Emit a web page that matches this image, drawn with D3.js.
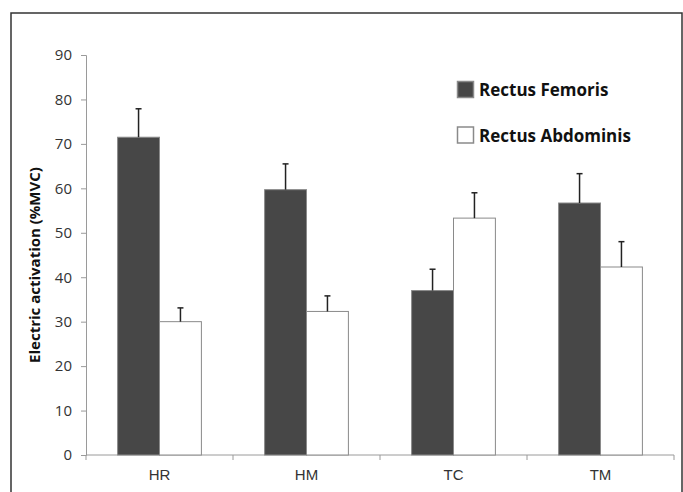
<!DOCTYPE html>
<html>
<head>
<meta charset="utf-8">
<script src="https://cdn.jsdelivr.net/npm/d3@7"></script>
<style>
  body { margin: 0; background: #fff; }
  svg { display: block; }
</style>
</head>
<body>
<div id="chart"></div>
<script>
// data
var categories = ["HR", "HM", "TC", "TM"];
var seriesNames = ["Rectus Femoris", "Rectus Abdominis"];
var femoris = [71.5, 59.7, 37.0, 56.7];
var femorisErr = [6.4, 5.8, 4.8, 6.6];
var abdominis = [30.0, 32.3, 53.3, 42.3];
var abdominisErr = [3.1, 3.5, 5.7, 5.7];
var yTicks = [0, 10, 20, 30, 40, 50, 60, 70, 80, 90];

var svgWidth = 683;
var svgHeight = 492;

var margin = { top: 55, right: 9, bottom: 37, left: 86 };
var width = svgWidth - margin.left - margin.right;
var height = svgHeight - margin.top - margin.bottom;

var colors = ["#474747", "#ffffff"];

var svg = d3.select("#chart")
  .append("svg")
  .attr("width", svgWidth)
  .attr("height", svgHeight);

// outer frame
svg.append("rect")
  .attr("x", 11)
  .attr("y", 13)
  .attr("width", 671)
  .attr("height", 500)
  .attr("fill", "none")
  .attr("stroke", "#333")
  .attr("stroke-width", 1.5);

var chartGroup = svg.append("g")
  .attr("transform", `translate(${margin.left}, ${margin.top})`);

var rows = categories.map(function(c, i) {
  return {
    cat: c,
    values: [
      { key: 0, value: femoris[i], err: femorisErr[i] },
      { key: 1, value: abdominis[i], err: abdominisErr[i] }
    ]
  };
});

var x0 = d3.scaleBand()
  .domain(categories)
  .range([0, width])
  .paddingInner(0.43)
  .paddingOuter(0.215);

var x1 = d3.scaleBand()
  .domain([0, 1])
  .range([0, x0.bandwidth()]);

var y = d3.scaleLinear()
  .domain([0, 90])
  .range([height, 0]);

// y axis
var leftAxis = d3.axisLeft(y)
  .tickValues(yTicks)
  .tickSize(5)
  .tickPadding(9);

var yAxisG = chartGroup.append("g").call(leftAxis);
yAxisG.select(".domain").attr("stroke", "#9a9a9a");
yAxisG.selectAll(".tick line").attr("stroke", "#9a9a9a");
yAxisG.selectAll(".tick text")
  .attr("font-family", "Open Sans, sans-serif")
  .attr("font-size", 15)
  .attr("fill", "#333");

// x axis line and ticks at category boundaries
var step = x0.step();
var bounds = d3.range(categories.length + 1).map(function(i) {
  return x0(categories[0]) - x0.paddingOuter() * step + i * step;
});

chartGroup.append("line")
  .attr("x1", 0)
  .attr("x2", width)
  .attr("y1", height)
  .attr("y2", height)
  .attr("stroke", "#9a9a9a");

chartGroup.selectAll(".xtick")
  .data(bounds)
  .enter()
  .append("line")
  .attr("class", "xtick")
  .attr("x1", d => d)
  .attr("x2", d => d)
  .attr("y1", height)
  .attr("y2", height + 5)
  .attr("stroke", "#9a9a9a");

chartGroup.selectAll(".xlabel")
  .data(categories)
  .enter()
  .append("text")
  .attr("class", "xlabel")
  .attr("x", d => x0(d) + x0.bandwidth() / 2)
  .attr("y", height + 25)
  .attr("text-anchor", "middle")
  .attr("font-family", "Liberation Sans, Arial, sans-serif")
  .attr("font-size", 15)
  .attr("fill", "#333")
  .text(d => d);

// bars
var groups = chartGroup.selectAll(".cat")
  .data(rows)
  .enter()
  .append("g")
  .attr("class", "cat")
  .attr("transform", d => `translate(${x0(d.cat)},0)`);

groups.selectAll("rect")
  .data(d => d.values)
  .enter()
  .append("rect")
  .attr("x", d => x1(d.key))
  .attr("y", d => y(d.value))
  .attr("width", x1.bandwidth())
  .attr("height", d => height - y(d.value))
  .attr("fill", d => colors[d.key])
  .attr("stroke", "#8a8a8a")
  .attr("stroke-width", 1);

// error bars
groups.selectAll(".err")
  .data(d => d.values)
  .enter()
  .append("line")
  .attr("class", "err")
  .attr("x1", d => x1(d.key) + x1.bandwidth() / 2)
  .attr("x2", d => x1(d.key) + x1.bandwidth() / 2)
  .attr("y1", d => y(d.value))
  .attr("y2", d => y(d.value + d.err))
  .attr("stroke", "#222")
  .attr("stroke-width", 1.5);

groups.selectAll(".cap")
  .data(d => d.values)
  .enter()
  .append("line")
  .attr("class", "cap")
  .attr("x1", d => x1(d.key) + x1.bandwidth() / 2 - 3)
  .attr("x2", d => x1(d.key) + x1.bandwidth() / 2 + 3)
  .attr("y1", d => y(d.value + d.err))
  .attr("y2", d => y(d.value + d.err))
  .attr("stroke", "#222")
  .attr("stroke-width", 1.5);

// legend
var legend = svg.selectAll(".legend")
  .data(seriesNames)
  .enter()
  .append("g")
  .attr("class", "legend")
  .attr("transform", (d, i) => `translate(457, ${81 + i * 45.5})`);

legend.append("rect")
  .attr("x", 0.5)
  .attr("y", 0.5)
  .attr("width", 16)
  .attr("height", 16)
  .attr("fill", (d, i) => colors[i])
  .attr("stroke", "#8a8a8a")
  .attr("stroke-width", 1.5);

legend.append("text")
  .attr("x", 22)
  .attr("y", 15)
  .attr("font-family", "Open Sans, DejaVu Sans, sans-serif")
  .attr("font-weight", "bold")
  .attr("font-size", 17)
  .attr("fill", "#111")
  .text(d => d);

// y axis label
svg.append("text")
  .attr("transform", "translate(40, 265) rotate(-90)")
  .attr("text-anchor", "middle")
  .attr("font-family", "Open Sans, DejaVu Sans, sans-serif")
  .attr("font-weight", "bold")
  .attr("font-size", 15)
  .attr("fill", "#111")
  .text("Electric activation (%MVC)");
</script>
</body>
</html>
